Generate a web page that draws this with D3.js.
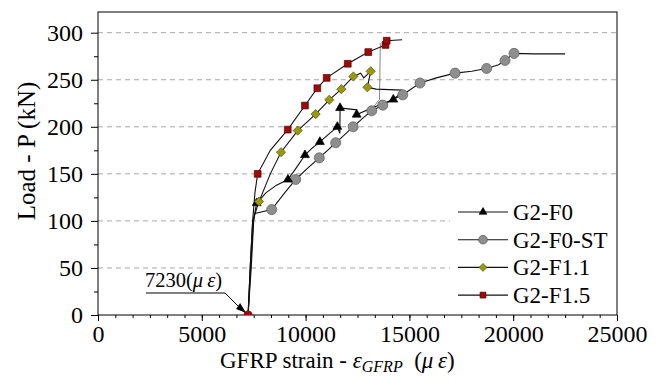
<!DOCTYPE html>
<html lang="en">
<head>
  <meta charset="UTF-8">
  <title>GFRP strain</title>
  <script src="https://d3js.org/d3.v7.min.js"></script>
  <style>
    body { margin: 0; background: #fff; }
    text { font-family: "Liberation Serif", "Times New Roman", serif; }
  </style>
</head>
<body>
  <script>
    var svgWidth = 664;
    var svgHeight = 392;

    // ---- data (strain in micro-strain, load in kN) ----
    var xTicks = [0, 5000, 10000, 15000, 20000, 25000];
    var yTicks = [0, 50, 100, 150, 200, 250, 300];
    var seriesNames = ["G2-F0", "G2-F0-ST", "G2-F1.1", "G2-F1.5"];

    var f0Line = [[7230,0],[7350,50],[7480,100],[7645,119],[8100,130],[8600,138],[9150,144],[9600,158],[9970,170],[10300,177],[10690,184],[11100,192],[11530,200],[11650,193],[11660,220],[12460,218],[12460,213],[13300,221],[14225,229],[14650,237]];
    var f0Marks = [[7645,119],[9150,144],[9970,170],[10690,184],[11530,200],[11660,220],[12460,213],[14225,229]];

    var f0stLine = [[7230,0],[7380,50],[7500,100],[7560,108],[8367,112],[9000,130],[9523,144],[10100,156],[10660,167],[11450,183],[12290,200],[12800,210],[13185,217],[13715,223],[14200,229],[14680,234],[15510,246.5],[16300,252],[17200,257],[18000,259],[18720,262],[19300,266],[19605,270.5],[20040,278],[21000,277.5],[22500,277.5]];
    var f0stMarks = [[8367,112],[9523,144],[10660,167],[11450,183],[12290,200],[13185,217],[13715,223],[14680,234],[15510,246.5],[17200,257],[18720,262],[19605,270.5],[20040,278]];

    var f11Line = [[7230,0],[7330,50],[7450,100],[7755,120.5],[8300,150],[8815,173],[9620,196],[10485,213.5],[11140,228.7],[11720,240],[12300,253.5],[12650,257],[12800,252],[13135,259],[12975,242],[13400,240],[14650,239]];
    var f11Marks = [[7755,120.5],[8815,173],[9620,196],[10485,213.5],[11140,228.7],[11720,240],[12300,253.5],[13135,259],[12975,242]];

    var f15Line = [[7230,0],[7330,50],[7450,100],[7560,130],[7690,150],[8300,175],[9140,197],[9970,222.6],[10565,241],[11015,252],[12030,267],[13020,279.4],[13850,287],[13906,291.5],[14650,292.5]];
    var f15Marks = [[7690,150],[9140,197],[9970,222.6],[10565,241],[11015,252],[12030,267],[13020,279.4],[13850,287],[13906,291.5]];
    var f15Drop = [[13600,289],[13560,229],[13300,222],[13100,213]];

    var startStrain = 7230;

    var svg = d3.select("body")
                .append("svg")
                .attr("width", svgWidth)
                .attr("height", svgHeight);

    var plotLeft = 98, plotRight = 617, plotTop = 12, plotBottom = 315;

    var x = d3.scaleLinear().domain([0, 25000]).range([plotLeft, plotRight]);
    var y = d3.scaleLinear().domain([0, 322]).range([plotBottom, plotTop]);

    // grid
    svg.selectAll(".grid")
       .data(yTicks.filter(d => d > 0))
       .enter()
       .append("line")
       .attr("x1", plotLeft).attr("x2", plotRight)
       .attr("y1", d => y(d)).attr("y2", d => y(d))
       .style("stroke", "#a8a8a8")
       .style("stroke-width", 1)
       .style("stroke-dasharray", "5,4");

    // legend background covers the grid
    svg.append("rect")
       .attr("x", 450).attr("y", 196)
       .attr("width", 166).attr("height", 116)
       .style("fill", "#fff");

    // axes
    var xAxis = d3.axisBottom(x).tickValues(xTicks).tickSize(6).tickFormat(d3.format("d"));
    var xMinor = d3.axisBottom(x).tickValues(d3.range(0, 25001, 5000 / 6)).tickSize(3).tickFormat("");
    var yAxis = d3.axisLeft(y).tickValues(yTicks).tickSize(7);
    var yMinor = d3.axisLeft(y).tickValues(d3.range(25, 322, 50)).tickSize(4).tickFormat("");

    function styleAxis(g) {
      g.select(".domain").remove();
      g.selectAll("line").style("stroke", "#000");
      g.selectAll("text").style("font-size", "24px").style("fill", "#000");
    }

    svg.append("g").attr("transform", "translate(0," + plotBottom + ")").call(xMinor).call(styleAxis);
    svg.append("g").attr("transform", "translate(0," + plotBottom + ")").call(xAxis).call(styleAxis)
       .selectAll("text").attr("y", 10);
    svg.append("g").attr("transform", "translate(" + plotLeft + ",0)").call(yMinor).call(styleAxis);
    svg.append("g").attr("transform", "translate(" + plotLeft + ",0)").call(yAxis).call(styleAxis)
       .selectAll("text").attr("x", -15);

    svg.append("rect")
       .attr("x", plotLeft).attr("y", plotTop)
       .attr("width", plotRight - plotLeft).attr("height", plotBottom - plotTop)
       .style("fill", "none")
       .style("stroke", "#000")
       .style("stroke-width", 1);

    // curves
    var line = d3.line().x(d => x(d[0])).y(d => y(d[1]));

    svg.append("path").datum(f15Drop).attr("d", line)
       .style("fill", "none").style("stroke", "#777").style("stroke-width", 0.9);

    var curves = [f0stLine, f0Line, f11Line, f15Line];
    svg.selectAll(".curve")
       .data(curves)
       .enter()
       .append("path")
       .attr("d", line)
       .style("fill", "none")
       .style("stroke", "#111")
       .style("stroke-width", 1.1);

    // markers
    var styles = {
      "G2-F0":    { shape: d3.symbolTriangle, size: 34, fill: "#000", stroke: "#000", rot: 0 },
      "G2-F0-ST": { shape: d3.symbolCircle,   size: 80, fill: "#8e8e8e", stroke: "#5a5a5a", rot: 0 },
      "G2-F1.1":  { shape: d3.symbolSquare,   size: 42, fill: "#999910", stroke: "#55550a", rot: 45 },
      "G2-F1.5":  { shape: d3.symbolSquare,   size: 46, fill: "#9a0c0c", stroke: "#5a0000", rot: 0 }
    };

    function drawMarks(data, name) {
      var s = styles[name];
      svg.append("g")
         .selectAll("path")
         .data(data)
         .enter()
         .append("path")
         .attr("d", d3.symbol().type(s.shape).size(s.size))
         .attr("transform", d => "translate(" + x(d[0]) + "," + y(d[1]) + ") rotate(" + s.rot + ")")
         .style("fill", s.fill)
         .style("stroke", s.stroke)
         .style("stroke-width", 0.7);
    }
    drawMarks(f0stMarks, "G2-F0-ST");
    drawMarks(f0Marks, "G2-F0");
    drawMarks(f11Marks, "G2-F1.1");
    drawMarks(f15Marks, "G2-F1.5");

    // start point (half hidden by the axis)
    svg.append("defs").append("clipPath").attr("id", "plotclip")
       .append("rect").attr("x", plotLeft).attr("y", plotTop).attr("width", plotRight - plotLeft).attr("height", plotBottom - plotTop);
    svg.append("circle")
       .attr("cx", x(startStrain)).attr("cy", y(0)).attr("r", 4.5)
       .attr("clip-path", "url(#plotclip)")
       .style("fill", "#9a0c0c");

    // annotation
    var ann = svg.append("text")
                 .attr("x", 145).attr("y", 287)
                 .style("font-size", "20.5px");
    ann.append("tspan").text(startStrain + "(");
    ann.append("tspan").style("font-style", "italic").text("\u03bc\u2009\u03b5");
    ann.append("tspan").text(")");

    svg.append("polyline")
       .attr("points", [[146, 293], [225, 293], [x(startStrain) - 6, y(0) - 5]].map(p => p.join(",")).join(" "))
       .style("fill", "none").style("stroke", "#000").style("stroke-width", 1);
    svg.append("path")
       .attr("d", "M" + (x(startStrain) - 2) + "," + (y(0) - 2) + " l-10,-4 l4,-6 z")
       .style("fill", "#000");

    // legend
    var legend = svg.selectAll(".legend")
                    .data(seriesNames)
                    .enter()
                    .append("g")
                    .attr("transform", (d, i) => "translate(458," + (212 + i * 27.7) + ")");
    legend.append("line")
          .attr("x1", 0).attr("x2", 50).attr("y1", 0).attr("y2", 0)
          .style("stroke", "#111").style("stroke-width", 1.1);
    legend.append("path")
          .attr("d", d => d3.symbol().type(styles[d].shape).size(styles[d].size * 0.75)())
          .attr("transform", d => "translate(25,0) rotate(" + styles[d].rot + ")")
          .style("fill", d => styles[d].fill)
          .style("stroke", d => styles[d].stroke)
          .style("stroke-width", 0.7);
    legend.append("text")
          .attr("x", 55).attr("y", 8)
          .style("font-size", "23px")
          .text(d => d);

    // axis titles
    svg.append("text")
       .attr("transform", "translate(35,151) rotate(-90)")
       .attr("text-anchor", "middle")
       .style("font-size", "25px")
       .text("Load - P (kN)");

    var xt = svg.append("text")
                .attr("x", 220).attr("y", 368)
                .style("font-size", "23px");
    xt.append("tspan").text("GFRP strain - ");
    xt.append("tspan").style("font-style", "italic").text("\u03b5");
    xt.append("tspan").style("font-style", "italic").style("font-size", "16px").attr("dy", 4).text("GFRP");
    xt.append("tspan").attr("dy", -4).text("\u00a0\u00a0(");
    xt.append("tspan").style("font-style", "italic").text("\u03bc\u2009\u03b5");
    xt.append("tspan").text(")");
  </script>
</body>
</html>
